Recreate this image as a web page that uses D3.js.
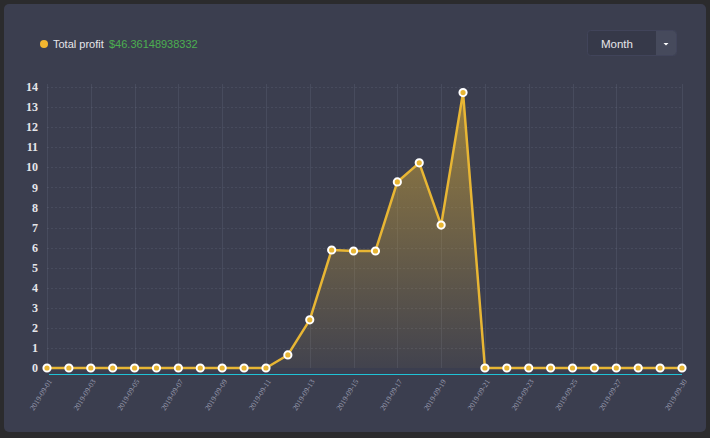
<!DOCTYPE html>
<html>
<head>
<meta charset="utf-8">
<script src="https://cdn.jsdelivr.net/npm/d3@7/dist/d3.min.js"></script>
<style>
  html, body { margin: 0; padding: 0; background: #2b2b2d; }
  svg { display: block; }
</style>
</head>
<body>
<svg id="chart" width="710" height="438"></svg>
<script>
const dates = d3.range(1, 31).map((d) => `2019-09-${String(d).padStart(2, "0")}`);
const profit = [
  0, 0, 0, 0, 0, 0, 0, 0, 0, 0,
  0, 0.65, 2.4, 5.88, 5.83, 5.83, 9.27, 10.22, 7.12, 13.72,
  0, 0, 0, 0, 0, 0, 0, 0, 0, 0
];
const tickLabels = ["2019-09-01", "2019-09-03", "2019-09-05", "2019-09-07", "2019-09-09",
  "2019-09-11", "2019-09-13", "2019-09-15", "2019-09-17", "2019-09-19", "2019-09-21",
  "2019-09-23", "2019-09-25", "2019-09-27", "2019-09-30"];
const yTicks = d3.range(0, 15);
const legendLabel = "Total profit";
const legendValue = "$46.36148938332";

const theme = {
  card: "#3b3e4f",
  line: "#e8b634",
  grid: "rgba(150, 155, 185, 0.14)",
  axis: "#1fc2d6",
  text: "#e6e6ea",
  tick: "#9a9db0",
  green: "#4caf50"
};

const svg = d3.select("#chart");
const margin = { left: 47, right: 28, top: 87, bottom: 70 };
const width = 710, height = 438;

svg.append("rect")
  .attr("x", 4).attr("y", 4)
  .attr("width", 702).attr("height", 428)
  .attr("rx", 5)
  .attr("fill", theme.card);

const x = d3.scalePoint().domain(dates).range([margin.left, width - margin.right]);
const y = d3.scaleLinear().domain([0, 14]).range([height - margin.bottom, margin.top]);

const defs = svg.append("defs");
const grad = defs.append("linearGradient")
  .attr("id", "areaFill")
  .attr("x1", 0).attr("y1", 0).attr("x2", 0).attr("y2", 1);
grad.append("stop").attr("offset", "0%").attr("stop-color", theme.line).attr("stop-opacity", 0.55);
grad.append("stop").attr("offset", "100%").attr("stop-color", theme.line).attr("stop-opacity", 0.04);

// grid
const grid = svg.append("g")
  .attr("stroke", theme.grid)
  .attr("stroke-width", 1);

grid.selectAll("line.h")
  .data(yTicks.filter((d) => d > 0))
  .join("line")
  .attr("class", "h")
  .attr("stroke-dasharray", "2,2")
  .attr("x1", margin.left).attr("x2", width - margin.right)
  .attr("y1", (d) => Math.round(y(d)) + 0.5).attr("y2", (d) => Math.round(y(d)) + 0.5);

grid.selectAll("line.v")
  .data(tickLabels)
  .join("line")
  .attr("class", "v")
  .attr("x1", (d) => Math.round(x(d)) + 0.5).attr("x2", (d) => Math.round(x(d)) + 0.5)
  .attr("y1", y(14) - 3).attr("y2", y(0));

// y labels
svg.append("g")
  .selectAll("text")
  .data(yTicks)
  .join("text")
  .attr("x", 38)
  .attr("y", (d) => y(d))
  .attr("dy", "0.35em")
  .attr("text-anchor", "end")
  .attr("fill", theme.text)
  .attr("font-family", "'Liberation Serif', 'DejaVu Serif', serif")
  .attr("font-size", 12)
  .attr("font-weight", "bold")
  .text((d) => d);

// x axis line
svg.append("line")
  .attr("x1", margin.left + 2).attr("x2", width - margin.right)
  .attr("y1", y(0) + 6.5).attr("y2", y(0) + 6.5)
  .attr("stroke", theme.axis)
  .attr("stroke-width", 1.2);

// x labels
svg.append("g")
  .selectAll("text")
  .data(tickLabels)
  .join("text")
  .attr("transform", (d) => `translate(${x(d) + 3},${y(0) + 12}) rotate(-58)`)
  .attr("text-anchor", "end")
  .attr("dy", "0.35em")
  .attr("fill", theme.tick)
  .attr("font-family", "'Liberation Serif', serif")
  .attr("font-size", 7.5)
  .text((d) => d);

// area + line
const area = d3.area()
  .x((d, i) => x(dates[i]))
  .y0(y(0))
  .y1((d) => y(d));

const line = d3.line()
  .x((d, i) => x(dates[i]))
  .y((d) => y(d));

svg.append("path")
  .datum(profit)
  .attr("d", area)
  .attr("fill", "url(#areaFill)");

svg.append("path")
  .datum(profit)
  .attr("d", line)
  .attr("fill", "none")
  .attr("stroke", theme.line)
  .attr("stroke-width", 2.5)
  .attr("stroke-linejoin", "round");

svg.append("g")
  .selectAll("circle")
  .data(profit)
  .join("circle")
  .attr("cx", (d, i) => x(dates[i]))
  .attr("cy", (d) => y(d))
  .attr("r", 3.6)
  .attr("fill", theme.line)
  .attr("stroke", "#ffffff")
  .attr("stroke-width", 2);

// legend
const legend = svg.append("g").attr("font-family", "'Liberation Sans', Arial, sans-serif").attr("font-size", 11);
legend.append("circle").attr("cx", 44).attr("cy", 44).attr("r", 4).attr("fill", "#f2b630");
legend.append("text").attr("x", 53).attr("y", 44).attr("dy", "0.35em").attr("fill", theme.text).text(legendLabel);
legend.append("text").attr("x", 109).attr("y", 44).attr("dy", "0.35em").attr("fill", theme.green).text(legendValue);

// dropdown
const dd = svg.append("g");
dd.append("rect")
  .attr("x", 587.5).attr("y", 30.5).attr("width", 89).attr("height", 25).attr("rx", 3)
  .attr("fill", "#363949").attr("stroke", "#41445a");
dd.append("path")
  .attr("d", "M656,31 H673 Q676,31 676,34 V52 Q676,55 673,55 H656 Z")
  .attr("fill", "#464a5c");
dd.append("path")
  .attr("d", "M663.5,43 L668.5,43 L666,45.5 Z")
  .attr("fill", "#ffffff");
dd.append("text")
  .attr("x", 601).attr("y", 43.5).attr("dy", "0.35em")
  .attr("fill", theme.text)
  .attr("font-family", "'Liberation Sans', Arial, sans-serif")
  .attr("font-size", 11.5)
  .text("Month");
</script>
</body>
</html>
